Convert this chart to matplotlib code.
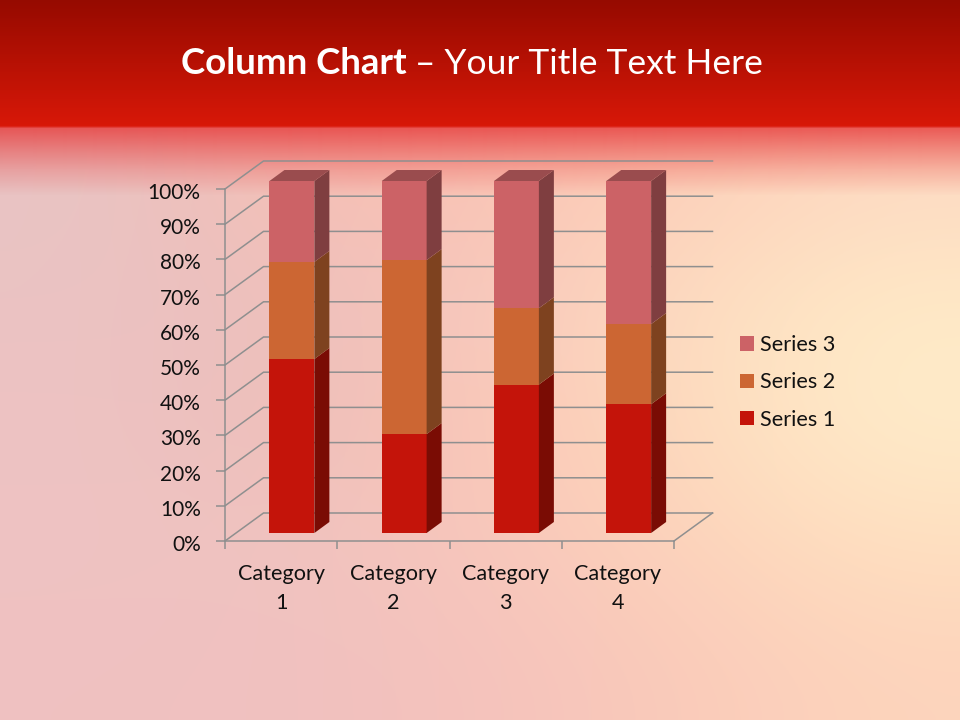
import numpy as np
import matplotlib
matplotlib.use("Agg")
import matplotlib.pyplot as plt
from matplotlib.patches import Polygon, Patch
from matplotlib.transforms import ScaledTranslation

plt.rcParams['font.family'] = ['Lato', 'DejaVu Sans']

categories = ["Category\n1", "Category\n2", "Category\n3", "Category\n4"]
series_1 = [4.3, 2.5, 3.5, 4.5]
series_2 = [2.4, 4.4, 1.8, 2.8]
series_3 = [2.0, 2.0, 3.0, 5.0]
series_names = ["Series 1", "Series 2", "Series 3"]
percent_ticks = list(range(0, 101, 10))

front_colors = ["#C4140A", "#CC6633", "#CC6266"]
side_colors = ["#7A0C04", "#7E421F", "#7F3E40"]
top_color = "#9A4C4E"
line_color = "#8F8F8F"

W, H = 960, 720
fig = plt.figure(figsize=(W / 100, H / 100), dpi=100)

# Background: soft colour field plus the red header band
bg = fig.add_axes([0, 0, 1, 1], zorder=0)
bg.set_axis_off()
field = np.array([
    [(232, 196, 196), (245, 190, 180), (250, 195, 180), (253, 208, 185), (253, 218, 195)],
    [(235, 195, 195), (236, 190, 188), (248, 200, 190), (253, 218, 192), (255, 234, 198)],
    [(238, 195, 195), (236, 190, 185), (252, 197, 182), (253, 218, 188), (255, 236, 202)],
    [(238, 195, 195), (240, 195, 192), (248, 198, 188), (253, 210, 186), (255, 224, 192)],
    [(240, 193, 193), (240, 193, 192), (245, 194, 188), (250, 202, 186), (253, 212, 188)],
], dtype=float) / 255
bg.imshow(field, extent=(0, W, H, 125), aspect='auto', interpolation='bicubic', zorder=0)
ys = np.arange(H)
band = np.zeros((H, 1, 4))
for c, stops in enumerate([(150, 216, 230), (10, 24, 60), (0, 8, 60)]):
    band[:, 0, c] = np.interp(ys, [0, 125, 128], stops) / 255
band[:, 0, 3] = np.interp(ys, [0, 126, 128, 150, 170, 195], [1, 1, .8, .5, .25, 0])
bg.imshow(band, extent=(0, W, H, 0), aspect='auto', interpolation='bilinear', zorder=1)
bg.set_xlim(0, W)
bg.set_ylim(H, 0)

bg.text(181, 64, "Column Chart", color='white', fontsize=26.4, fontweight='bold',
        ha='left', va='center', zorder=3)
bg.text(415, 64, "\u2013 Your Title Text Here", color='white', fontsize=25.5,
        ha='left', va='center', zorder=3)

# Plot: front plane of the 100 % stacked column chart
L, R, B, T = 225, 674, 541, 189
ax = fig.add_axes([L / W, 1 - B / H, (R - L) / W, (B - T) / H], zorder=1)
ax.patch.set_alpha(0)
ax.set_xlim(0, 4)
ax.set_ylim(0, 100)
px_x = 4 / (R - L)
px_y = 100 / (B - T)
wall_dx, wall_dy = 38.5 * px_x, 28 * px_y
bar_dx, bar_dy = 10.8 * px_x, 8 * px_y
depth_dx, depth_dy = 15 * px_x, 11 * px_y
bar_width = 0.4

for s in ['top', 'right']:
    ax.spines[s].set_visible(False)
for s in ['left', 'bottom']:
    ax.spines[s].set_color(line_color)
    ax.spines[s].set_linewidth(1.1)

# Walls
for v in percent_ticks:
    ax.plot([0, wall_dx, 4 + wall_dx], [v, v + wall_dy, v + wall_dy], color=line_color,
            lw=1.1, clip_on=False, zorder=1, solid_joinstyle='miter')
ax.plot([4, 4 + wall_dx], [0, wall_dy], color=line_color, lw=1.1, clip_on=False, zorder=1)

# Columns
data = np.array([series_1, series_2, series_3], dtype=float)
shares = data / data.sum(axis=0) * 100
x_pos = np.arange(len(categories)) + 0.5
bottoms = np.zeros(len(categories))
for i in range(len(series_names)):
    xs = x_pos + bar_dx - bar_width / 2
    ax.bar(xs, shares[i], bottom=bottoms + bar_dy, width=bar_width, align='edge',
           color=front_colors[i], zorder=3, clip_on=False, linewidth=0)
    for x0, b, h in zip(xs, bottoms + bar_dy, shares[i]):
        x1 = x0 + bar_width
        ax.add_patch(Polygon([(x1, b), (x1 + depth_dx, b + depth_dy),
                              (x1 + depth_dx, b + h + depth_dy), (x1, b + h)],
                             closed=True, fc=side_colors[i], ec='none', zorder=3, clip_on=False))
        if i == len(series_names) - 1:
            ax.add_patch(Polygon([(x0, b + h), (x1, b + h),
                                  (x1 + depth_dx, b + h + depth_dy), (x0 + depth_dx, b + h + depth_dy)],
                                 closed=True, fc=top_color, ec='none', zorder=3, clip_on=False))
    bottoms = bottoms + shares[i]

# Axes text
ax.set_yticks(percent_ticks)
ax.set_yticklabels([f"{v}%" for v in percent_ticks])
ax.tick_params(axis='y', length=6.5, width=1.1, color=line_color, pad=11,
               labelsize=15, labelcolor='#111111')
down = ScaledTranslation(0, -2 / 100, fig.dpi_scale_trans)
for lab in ax.get_yticklabels():
    lab.set_transform(lab.get_transform() + down)
ax.set_xticks(np.arange(len(categories) + 1))
ax.set_xticklabels([])
ax.tick_params(axis='x', which='major', length=6, width=1.1, color=line_color)
ax.set_xticks(x_pos, minor=True)
ax.set_xticklabels(categories, minor=True, linespacing=1.55)
ax.tick_params(axis='x', which='minor', length=0, pad=16.5, labelsize=15.6, labelcolor='#111111')

# Legend
handles = [Patch(fc=front_colors[i], ec='none', label=series_names[i]) for i in (2, 1, 0)]
leg = ax.legend(handles=handles, loc='center left', frameon=False,
                bbox_to_anchor=((740 - L) / (R - L), (B - 382.5) / (B - T)), borderaxespad=0,
                borderpad=0, fontsize=15.6, handlelength=0.65, handleheight=0.65,
                handletextpad=0.25, labelspacing=0.8, labelcolor='#111111')

fig.savefig("out.png", dpi=100)
